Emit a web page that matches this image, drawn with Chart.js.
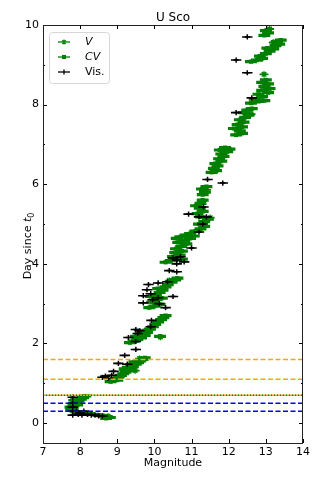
<!DOCTYPE html>
<html>
<head>
<meta charset="utf-8">
<script src="https://cdn.jsdelivr.net/npm/chart.js@4/dist/chart.umd.min.js"></script>
<style>
  html, body { margin: 0; padding: 0; background: #fff; }
  #wrap { position: relative; width: 322px; height: 483px; }
</style>
</head>
<body>
<div id="wrap"><canvas id="lc"></canvas></div>
<script>
// --- data (magnitude vs day since t0) ---
const xTicks = [7, 8, 9, 10, 11, 12, 13, 14];
const yTicks = [0, 2, 4, 6, 8, 10];
const yMinorTicks = [1, 3, 5, 7, 9];

// CV points, grouped by the blobs they form
const cvMag = [
  7.76, 7.80, 7.74, 7.82, 7.86, 7.90, 7.96, 8.02, 8.08, 8.14, 7.92, 7.84,
  7.90, 8.05, 8.20, 8.35, 8.50, 8.62, 8.72, 8.80, 8.70,
  8.82, 8.90, 8.96, 9.04, 9.10, 9.16, 9.22, 9.30, 9.36, 9.28, 9.42, 9.38, 9.50, 9.56, 9.46, 9.62, 9.68, 9.74, 9.20, 9.00,
  9.34, 9.44, 9.54, 9.64, 9.50, 9.74, 9.62, 9.80, 9.72, 9.88, 9.96, 10.02, 10.10, 10.18, 10.24, 10.30, 10.15,
  9.86, 10.00, 10.14, 9.94, 10.06, 10.20, 9.90, 10.04, 10.14, 10.22, 10.30, 10.36, 10.46, 10.56, 10.62, 10.10,
  10.30, 10.44, 10.58, 10.74, 10.50, 10.68, 10.56, 10.74, 10.58, 10.72, 10.86, 10.64, 10.80, 10.96, 11.06, 10.60, 10.84, 10.96, 10.70,
  11.10, 11.24, 11.34, 11.20, 11.34, 11.44, 11.26, 11.16, 11.30, 11.22, 11.12, 11.24, 11.30,
  11.30, 11.36, 11.28, 11.40,
  11.54, 11.66, 11.60, 11.70, 11.64, 11.80, 11.74, 11.86, 11.80, 11.96, 12.02, 11.76, 11.90,
  12.20, 12.36, 12.30, 12.14, 12.36, 12.24, 12.40, 12.30, 12.44, 12.54, 12.40, 12.50, 12.62,
  12.60, 12.80, 12.96, 12.70, 12.90, 12.80, 13.06, 12.90, 13.10, 12.96, 13.06, 12.90, 13.00,
  12.60, 12.76, 12.90, 12.84, 13.00, 13.10, 13.20, 13.04, 13.26, 13.36, 13.30, 13.40,
  12.96, 13.06, 13.00
];
const cvDay = [
  0.32, 0.36, 0.40, 0.44, 0.48, 0.52, 0.56, 0.60, 0.64, 0.68, 0.46, 0.50,
  0.28, 0.26, 0.24, 0.22, 0.20, 0.18, 0.16, 0.14, 0.12,
  1.04, 1.08, 1.12, 1.16, 1.20, 1.24, 1.28, 1.32, 1.36, 1.40, 1.42, 1.46, 1.48, 1.52, 1.54, 1.56, 1.60, 1.64, 1.36, 1.08,
  2.02, 2.06, 2.10, 2.14, 2.18, 2.20, 2.24, 2.28, 2.32, 2.36, 2.42, 2.48, 2.54, 2.60, 2.65, 2.70, 2.18,
  2.90, 2.94, 2.98, 3.04, 3.10, 3.14, 3.18, 3.22, 3.28, 3.34, 3.42, 3.48, 3.54, 3.60, 3.64, 3.38,
  4.04, 4.08, 4.10, 4.12, 4.18, 4.22, 4.28, 4.32, 4.38, 4.44, 4.50, 4.54, 4.58, 4.64, 4.70, 4.64, 4.72, 4.76, 4.68,
  4.82, 4.88, 4.94, 5.00, 5.06, 5.12, 5.18, 5.26, 5.32, 5.40, 5.46, 5.52, 5.60,
  5.74, 5.80, 5.88, 5.94,
  6.30, 6.34, 6.40, 6.46, 6.52, 6.58, 6.64, 6.70, 6.76, 6.82, 6.88, 6.86, 6.92,
  7.24, 7.28, 7.34, 7.40, 7.44, 7.50, 7.56, 7.62, 7.68, 7.74, 7.80, 7.86, 7.90,
  8.04, 8.08, 8.10, 8.14, 8.20, 8.26, 8.30, 8.36, 8.40, 8.46, 8.52, 8.56, 8.62,
  9.08, 9.12, 9.16, 9.22, 9.28, 9.34, 9.40, 9.42, 9.48, 9.52, 9.58, 9.62,
  9.74, 9.80, 9.86
];
const cvErr = 0.16;

// V points
const vMag = [7.80, 8.75, 9.48, 9.60, 10.16, 10.40, 10.90, 11.50, 11.40, 11.90, 12.60, 12.95, 13.20, 13.10];
const vDay = [0.58, 0.17, 1.32, 1.62, 2.16, 3.58, 4.62, 5.16, 5.86, 6.80, 7.76, 8.76, 9.56, 9.90];
const vErr = 0.12;

// visual estimates
const visMag = [
  12.50, 12.20, 12.50, 12.62, 12.20,
  11.43, 11.84, 11.32, 10.92, 11.20, 11.40, 11.30, 11.20, 11.00,
  10.50, 10.60, 10.70, 10.80, 10.60, 10.40, 10.60,
  9.84, 10.10, 10.35, 9.80, 9.90, 9.95, 9.70, 9.70, 10.10, 10.50, 10.13, 10.30,
  9.92, 9.90, 9.50, 9.60, 9.55, 9.30, 9.50, 9.50,
  9.20, 9.03, 9.27, 8.90, 8.68, 8.60, 8.75, 8.85,
  7.80, 7.80, 7.80, 7.80, 7.80, 7.90, 8.00, 8.10, 8.05, 8.20, 8.30, 8.40, 8.50, 8.60, 7.95
];
const visDay = [
  9.70, 9.12, 8.80, 8.17, 7.80,
  6.12, 6.03, 5.43, 5.25, 5.18, 5.18, 5.00, 4.80, 4.40,
  4.15, 4.10, 4.18, 4.05, 4.00, 3.83, 3.80,
  3.48, 3.52, 3.55, 3.35, 3.25, 3.10, 3.20, 3.02, 3.15, 3.18, 3.00, 2.90,
  2.58, 2.42, 2.35, 2.32, 2.25, 2.15, 2.05, 1.85,
  1.70, 1.50, 1.48, 1.30, 1.18, 1.15, 1.12, 1.20,
  0.65, 0.50, 0.40, 0.30, 0.20, 0.30, 0.25, 0.30, 0.20, 0.22, 0.20, 0.20, 0.18, 0.18, 0.22
];
const visErr = 0.14;

// reference epochs (horizontal lines)
const orangeDashY = [1.6, 1.1];
const orangeSolidY = [0.7];
const blueDashY = [0.5, 0.3];

const FONT = "'DejaVu Sans', sans-serif";
const GREEN = '#008000';
const ORANGE = '#ffa500';
const BLUE = '#0000ff';

function pts(mags, days) {
    return mags.map((m, i) => ({ x: m, y: days[i] }));
}

function hline(y, color, dash, order) {
    return {
        type: 'line',
        data: [{ x: xTicks[0], y: y }, { x: xTicks[xTicks.length - 1], y: y }],
        borderColor: color,
        borderDash: dash,
        borderWidth: 1.5,
        pointRadius: 0,
        order: order
    };
}

const datasets = [];
orangeDashY.forEach(y => datasets.push(hline(y, ORANGE, [5, 2.5], 0)));
orangeSolidY.forEach(y => {
    datasets.push(hline(y, GREEN, [1, 2], -1));
    datasets.push(hline(y, ORANGE, [], 0));
});
blueDashY.forEach(y => datasets.push(hline(y, BLUE, [5, 2.5], 0)));

datasets.push({
    type: 'scatter', label: 'Vis.', data: pts(visMag, visDay), errX: visErr,
    errColor: '#000', errWidth: 1.6,
    pointStyle: 'cross', pointRadius: 2.6, borderColor: '#000', borderWidth: 1.5, order: 1
});
datasets.push({
    type: 'scatter', label: 'CV', data: pts(cvMag, cvDay), errX: cvErr,
    errColor: GREEN, errWidth: 3.2,
    pointStyle: 'rect', pointRadius: 3, backgroundColor: GREEN, borderColor: GREEN, borderWidth: 0, order: 2
});
datasets.push({
    type: 'scatter', label: 'V', data: pts(vMag, vDay), errX: vErr,
    errColor: GREEN, errWidth: 1.8,
    pointStyle: 'star', pointRadius: 3.2, borderColor: GREEN, borderWidth: 1.4, order: 3
});

// --- error bars drawn just under each dataset's markers ---
const errorBars = {
    id: 'errorBars',
    beforeDatasetDraw(chart, args) {
        const ds = chart.data.datasets[args.index];
        if (!ds.errX) return;
        const xs = chart.scales.x;
        const ctx = chart.ctx;
        ctx.save();
        ctx.strokeStyle = ds.errColor;
        ctx.lineWidth = ds.errWidth;
        ctx.beginPath();
        args.meta.data.forEach((el, i) => {
            const p = ds.data[i];
            ctx.moveTo(xs.getPixelForValue(p.x - ds.errX), el.y);
            ctx.lineTo(xs.getPixelForValue(p.x + ds.errX), el.y);
        });
        ctx.stroke();
        ctx.restore();
    }
};

// --- frame, inward ticks, titles and legend (matplotlib look) ---
const decorations = {
    id: 'decorations',
    afterDraw(chart) {
        const ctx = chart.ctx;
        const a = chart.chartArea;
        const xs = chart.scales.x, ys = chart.scales.y;
        ctx.save();

        // ticks on all four sides, pointing in
        ctx.strokeStyle = '#000';
        ctx.lineWidth = 1;
        ctx.beginPath();
        xTicks.forEach(v => {
            const px = Math.round(xs.getPixelForValue(v)) + 0.5;
            ctx.moveTo(px, a.bottom); ctx.lineTo(px, a.bottom - 4);
            ctx.moveTo(px, a.top); ctx.lineTo(px, a.top + 4);
        });
        yTicks.forEach(v => {
            const py = Math.round(ys.getPixelForValue(v)) + 0.5;
            ctx.moveTo(a.left, py); ctx.lineTo(a.left + 4, py);
            ctx.moveTo(a.right, py); ctx.lineTo(a.right - 4, py);
        });
        yMinorTicks.forEach(v => {
            const py = Math.round(ys.getPixelForValue(v)) + 0.5;
            ctx.moveTo(a.left, py); ctx.lineTo(a.left + 2, py);
            ctx.moveTo(a.right, py); ctx.lineTo(a.right - 2, py);
        });
        ctx.stroke();

        // frame
        ctx.strokeStyle = '#222';
        ctx.lineWidth = 1;
        ctx.strokeRect(Math.round(a.left) + 0.5, Math.round(a.top) + 0.5,
            Math.round(a.right - a.left) - 1, Math.round(a.bottom - a.top));

        // titles
        ctx.fillStyle = '#000';
        ctx.textAlign = 'center';
        ctx.textBaseline = 'alphabetic';
        const cx = (a.left + a.right) / 2;
        ctx.font = '12px ' + FONT;
        ctx.fillText('U Sco', cx, 21);
        ctx.font = '11px ' + FONT;
        ctx.fillText('Magnitude', cx, 466);

        // y title: "Day since t0" with italic t and subscript 0
        ctx.save();
        ctx.translate(31, 246);
        ctx.rotate(-Math.PI / 2);
        ctx.textAlign = 'left';
        const p1 = 'Day since ';
        ctx.font = '11px ' + FONT;
        const w1 = ctx.measureText(p1).width;
        ctx.font = 'italic 11px ' + FONT;
        const w2 = ctx.measureText('t').width;
        ctx.font = '8px ' + FONT;
        const w3 = ctx.measureText('0').width;
        let x0 = -(w1 + w2 + w3) / 2;
        ctx.font = '11px ' + FONT;
        ctx.fillText(p1, x0, 0);
        ctx.font = 'italic 11px ' + FONT;
        ctx.fillText('t', x0 + w1, 0);
        ctx.font = '8px ' + FONT;
        ctx.fillText('0', x0 + w1 + w2, 2.5);
        ctx.restore();

        // legend box
        const bx = 49, by = 32, bw = 60, bh = 51;
        ctx.beginPath();
        ctx.roundRect(bx + 0.5, by + 0.5, bw, bh, 3);
        ctx.fillStyle = 'rgba(255,255,255,0.8)';
        ctx.fill();
        ctx.strokeStyle = '#d6d6d6';
        ctx.stroke();

        const rows = [
            { label: 'V', italic: true, color: GREEN, mark: 'star', y: 42 },
            { label: 'CV', italic: true, color: GREEN, mark: 'rect', y: 57 },
            { label: 'Vis.', italic: false, color: '#000', mark: 'cross', y: 72 }
        ];
        rows.forEach(r => {
            ctx.strokeStyle = r.color;
            ctx.fillStyle = r.color;
            ctx.lineWidth = 1.3;
            ctx.beginPath();
            ctx.moveTo(58, r.y); ctx.lineTo(70, r.y);
            ctx.stroke();
            if (r.mark === 'rect') {
                ctx.fillRect(62, r.y - 2, 4, 4);
            } else {
                ctx.beginPath();
                ctx.moveTo(64, r.y - 2.5); ctx.lineTo(64, r.y + 2.5);
                if (r.mark === 'star') {
                    ctx.moveTo(62, r.y - 1.5); ctx.lineTo(66, r.y + 1.5);
                    ctx.moveTo(62, r.y + 1.5); ctx.lineTo(66, r.y - 1.5);
                }
                ctx.stroke();
            }
            ctx.fillStyle = '#000';
            ctx.font = (r.italic ? 'italic ' : '') + '11px ' + FONT;
            ctx.textAlign = 'left';
            ctx.textBaseline = 'middle';
            ctx.fillText(r.label, 85, r.y);
        });

        ctx.restore();
    }
};

new Chart(document.getElementById('lc').getContext('2d'), {
    data: { datasets: datasets },
    options: {
        responsive: true,
        maintainAspectRatio: false,
        animation: false,
        events: [],
        layout: { padding: { left: 0, right: 19, top: 25, bottom: 0 } },
        plugins: { legend: { display: false }, tooltip: { enabled: false }, title: { display: false } },
        scales: {
            x: {
                type: 'linear', min: 7, max: 14,
                afterFit: s => { s.height = 40; },
                afterBuildTicks: s => { s.ticks = xTicks.map(v => ({ value: v })); },
                grid: { display: false, drawTicks: false },
                border: { display: false },
                ticks: { color: '#000', padding: 3, font: { family: FONT, size: 11 }, maxRotation: 0 }
            },
            y: {
                type: 'linear', min: -0.5, max: 10,
                afterFit: s => { s.width = 43; },
                afterBuildTicks: s => { s.ticks = yTicks.map(v => ({ value: v })); },
                grid: { display: false, drawTicks: false },
                border: { display: false },
                ticks: { color: '#000', padding: 4, font: { family: FONT, size: 11 } }
            }
        }
    },
    plugins: [errorBars, decorations]
});
</script>
</body>
</html>
